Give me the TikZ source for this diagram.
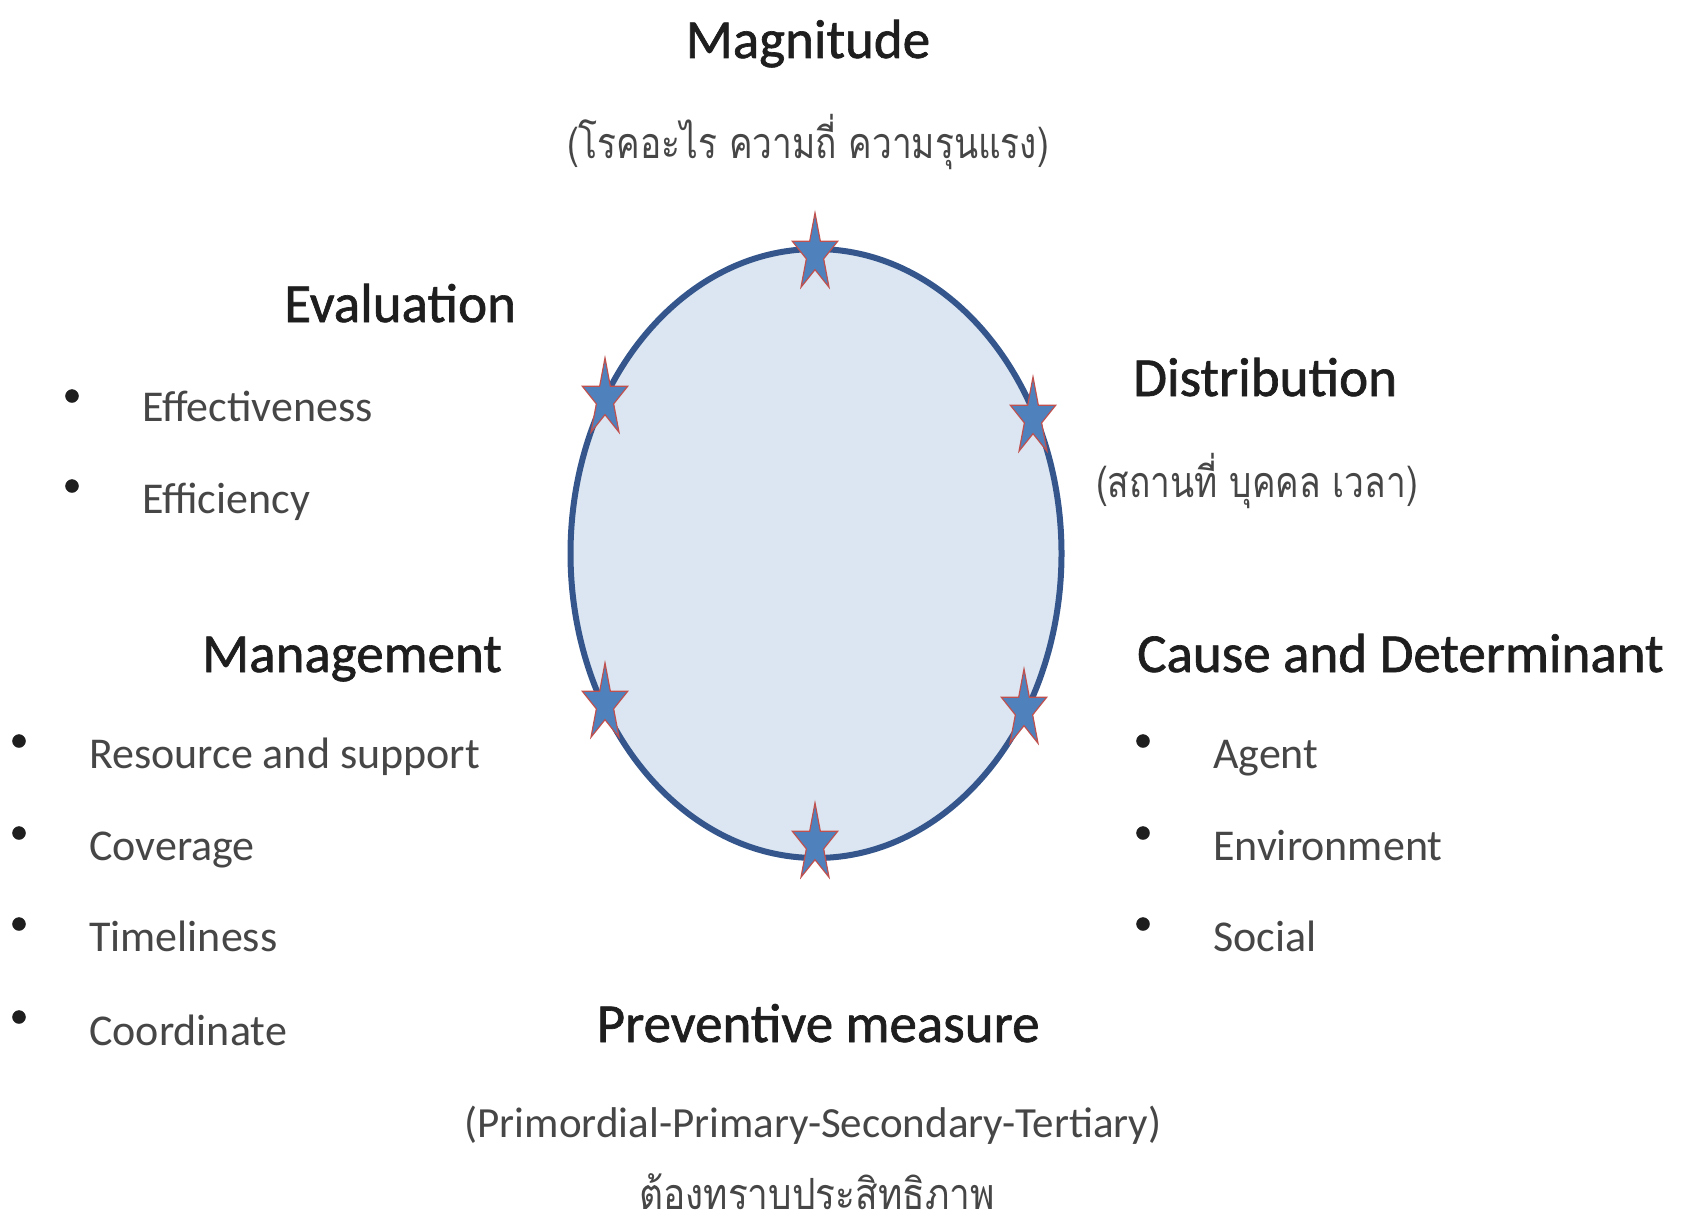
\documentclass[tikz,border=0pt]{standalone}
\usepackage{fontspec}
\setmainfont{Carlito}
\newfontfamily\headfont{Carlito}[FakeBold=1.2]
\newfontfamily\thaifont[Script=Thai]{Loma}
\usetikzlibrary{shapes}

\definecolor{rim}{RGB}{52,86,140}
\definecolor{inside}{RGB}{220,230,242}
\definecolor{starfill}{RGB}{79,129,189}
\definecolor{staredge}{RGB}{192,80,77}
\definecolor{headtxt}{RGB}{30,30,30}
\definecolor{itemtxt}{RGB}{70,70,70}

\begin{document}
\begin{tikzpicture}[x=1pt,y=-1pt,
  head/.style={inner sep=0pt, text=headtxt, font=\headfont\fontsize{55}{60}\selectfont},
  item/.style={inner sep=0pt, text=itemtxt, anchor=base west,
    font=\fontsize{44}{50}\selectfont},
  thai/.style={inner sep=0pt, text=itemtxt, xscale=0.82,
    font=\thaifont\fontsize{43}{48}\selectfont},
  starpt/.style={star, star points=5, star point ratio=2.618, minimum size=82pt,
    inner sep=0pt, xscale=0.58, fill=starfill, draw=staredge, line width=1.2pt}]
\useasboundingbox (0,0) rectangle (1685,1231);
\fill [white] (0,0) rectangle (1685,1231);

\filldraw [fill=inside, draw=rim, line width=6pt] (816,553.5) ellipse [x radius=245.5, y radius=304.5];
\node [starpt] (s1) at (815,254) {};
\node [starpt] (s2) at (605,399) {};
\node [starpt] (s3) at (1033,418) {};
\node [starpt] (s4) at (605,704) {};
\node [starpt] (s5) at (1024,710) {};
\node [starpt] (s6) at (815,844) {};

\node [head, anchor=base] (mag) at (808,58) {Magnitude};
\node [thai, anchor=base] (magth) at (808,158) {(โรคอะไร ความถี่ ความรุนแรง)};

\node [head, anchor=base west] (dist) at (1133,396) {Distribution};
\node [thai, anchor=base west] (distth) at (1096,497) {(สถานที่ บุคคล เวลา)};

\node [head, anchor=base west] (cause) at (1137,672) {Cause and Determinant};
\node [item] (agent) at (1213,768) {Agent};
\node [item] (env) at (1213,860) {Environment};
\node [item] (soc) at (1213,951) {Social};
\filldraw [headtxt] (1143,741) circle (6.5) (1143,833) circle (6.5) (1143,924) circle (6.5);

\node [head, anchor=base] (prev) at (818,1042) {Preventive measure};
\node [item, anchor=base, font=\fontsize{43}{50}\selectfont] (levels) at (813,1137) {(Primordial-Primary-Secondary-Tertiary)};
\node [thai, anchor=base, xscale=1.05] (prevth) at (817,1209) {ต้องทราบประสิทธิภาพ};

\node [head, anchor=base west] (mgmt) at (202,672) {Management};
\node [item] (res) at (89,768) {Resource and support};
\node [item] (cov) at (89,860) {Coverage};
\node [item] (time) at (89,951) {Timeliness};
\node [item] (coord) at (89,1045) {Coordinate};
\filldraw [headtxt] (19,741) circle (6.5) (19,833) circle (6.5) (19,924) circle (6.5) (19,1017) circle (6.5);

\node [head, anchor=base west] (eval) at (284,322) {Evaluation};
\node [item] (effe) at (142,421) {Effectiveness};
\node [item] (effi) at (142,513) {Efficiency};
\filldraw [headtxt] (72,396) circle (6.5) (72,486) circle (6.5);
\end{tikzpicture}
\end{document}
